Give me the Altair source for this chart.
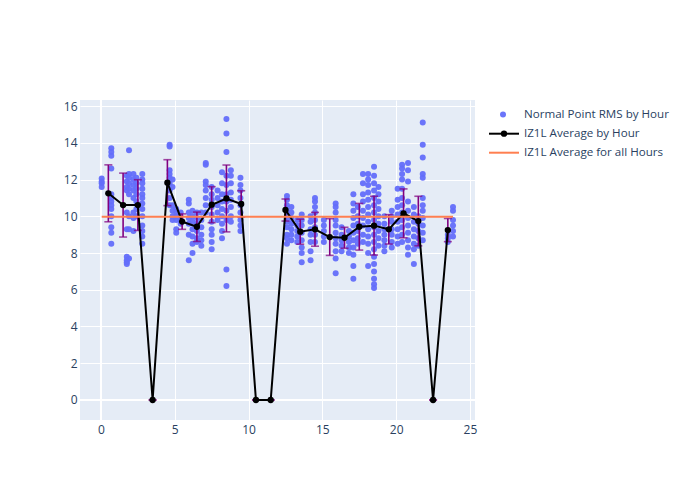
import altair as alt
import pandas as pd

# ---- scatter streaks: hour position and RMS values ----
streak_x = [0.05, 0.7, 1.75, 1.9, 2.2, 2.4, 2.8, 4.65, 4.85, 5.1, 5.4, 5.95,
            6.2, 6.5, 6.8, 7.1, 7.5, 7.9, 8.2, 8.5, 8.8, 9.45,
            12.6, 12.9, 13.3, 13.6, 14.2, 14.5, 15.1, 15.9, 16.3, 16.8,
            17.1, 17.4, 17.75, 18.1, 18.5, 18.8, 19.2, 19.7,
            20.1, 20.4, 20.8, 21.2, 21.5, 21.8, 23.5, 23.85]
streak_y = [
    [12.05, 11.8, 11.6, 11.9],
    [13.7, 13.5, 13.3, 12.6, 11.2, 11.0, 10.8, 10.6, 10.4, 10.0, 9.4, 9.1, 8.5],
    [12.2, 11.9, 11.6, 11.4, 10.2, 9.3, 7.8, 7.6, 7.5, 7.4],
    [13.6, 12.3, 12.1, 11.8, 11.5, 11.2, 10.0, 9.3, 7.7],
    [12.3, 12.0, 11.7, 11.4, 11.0, 10.2, 9.9, 9.2],
    [12.1, 11.8, 11.5, 11.2, 10.8, 10.4, 10.0],
    [12.3, 12.0, 11.8, 11.5, 11.2, 11.0, 10.7, 10.4, 10.0, 9.5, 9.2, 8.9, 8.5],
    [13.9, 13.8, 12.5, 12.3, 12.1, 11.8, 11.4, 11.0, 10.6],
    [12.0, 11.6, 10.6, 10.3, 10.0, 9.8],
    [10.4, 10.2, 10.0, 9.8, 9.3, 9.1],
    [10.2, 10.0, 9.8, 9.6],
    [10.9, 10.7, 10.2, 9.9, 9.6, 9.0, 7.6],
    [10.3, 10.0, 9.7, 9.3, 8.9, 8.5, 8.0],
    [10.2, 9.9, 9.6, 9.2, 8.8, 8.6],
    [10.2, 9.8, 9.4, 9.0, 8.7, 8.4],
    [12.9, 12.8, 11.9, 11.7, 11.4, 11.0, 10.6, 10.2],
    [11.6, 11.2, 10.9, 10.5, 10.1, 9.7, 9.3, 9.0, 8.6, 8.2],
    [11.4, 11.0, 10.6, 10.2, 9.8],
    [12.4, 11.8, 11.2, 10.8, 10.4, 10.0, 9.6, 9.2, 8.8],
    [15.3, 14.5, 13.5, 12.2, 11.7, 11.2, 10.8, 10.3, 9.8, 7.1, 6.2],
    [12.5, 12.2, 11.8, 11.3, 10.9, 10.5, 10.0, 9.7],
    [12.1, 11.7, 11.4, 11.0, 10.6, 10.2, 9.8, 9.5, 9.2],
    [11.1, 10.9, 10.6, 10.3, 10.0, 9.7, 9.4, 9.0, 8.8, 8.5],
    [10.5, 10.2, 9.9, 9.6, 9.3, 9.0, 8.7],
    [9.8, 9.5, 9.2, 8.9, 8.6],
    [10.1, 9.8, 9.5, 9.1, 8.7, 8.3, 8.0, 7.5],
    [10.0, 9.7, 9.3, 9.0, 8.6, 8.1, 7.6],
    [11.0, 10.8, 10.5, 10.2, 9.8, 9.4, 9.0, 8.6],
    [9.8, 9.5, 9.2, 8.9, 8.6],
    [10.7, 10.5, 10.2, 9.8, 9.5, 9.1, 8.8, 8.5, 8.1, 7.7, 6.9],
    [9.4, 9.0, 8.7, 8.4, 8.1],
    [9.2, 8.9, 8.6, 8.3, 8.0],
    [11.2, 10.7, 10.3, 9.9, 9.5, 9.1, 8.7, 8.3, 7.9, 7.3, 6.6],
    [10.5, 10.0, 9.6, 9.2, 8.8, 8.5],
    [12.3, 11.8, 11.2, 10.8, 10.3, 9.9, 9.5, 9.0, 8.6],
    [12.3, 12.0, 11.7, 11.3, 10.9, 10.5, 10.1, 9.7, 9.3, 8.9, 8.5, 8.0, 7.3],
    [12.7, 12.2, 11.8, 11.4, 11.0, 10.6, 10.2, 9.8, 9.4, 9.0, 8.6, 8.2, 7.8, 7.4, 7.0, 6.6, 6.3, 6.1],
    [11.6, 11.2, 10.8, 10.4, 10.0, 9.6, 9.2, 8.8, 8.4],
    [10.0, 9.6, 9.3, 9.0, 8.7, 8.4, 8.1],
    [10.3, 10.0, 9.7, 9.3, 9.0, 8.6, 8.3],
    [11.5, 10.9, 10.5, 10.1, 9.7, 9.3, 8.9, 8.5],
    [12.8, 12.6, 12.3, 12.0, 11.5, 11.0, 10.6, 10.2, 9.8, 9.4, 9.0, 8.6],
    [12.9, 12.5, 11.9, 10.8, 10.3, 9.9, 9.5, 9.1, 8.7, 8.3, 7.9],
    [10.5, 10.1, 9.7, 9.3, 8.9, 8.5, 8.2, 7.4],
    [10.0, 9.6, 9.2, 8.8, 8.4],
    [15.1, 13.9, 13.2, 12.3, 12.1, 11.0, 10.6, 10.3, 9.9, 9.5, 9.1, 8.7],
    [9.0, 8.8, 8.6],
    [10.5, 10.3, 9.8, 9.5, 9.2, 8.9],
]

# ---- hourly averages and error bars ----
avg_hour = [0.5, 1.5, 2.5, 3.5, 4.5, 5.5, 6.5, 7.5, 8.5, 9.5, 10.5, 11.5,
            12.5, 13.5, 14.5, 15.5, 16.5, 17.5, 18.5, 19.5, 20.5, 21.5, 22.5, 23.5]
avg_value = [11.25, 10.61, 10.61, 0.0, 11.83, 9.71, 9.43, 10.63, 10.97, 10.67, 0.0, 0.0,
             10.34, 9.16, 9.29, 8.87, 8.83, 9.43, 9.49, 9.29, 10.16, 9.74, 0.0, 9.25]
avg_err = [1.55, 1.74, 1.38, 0.0, 1.25, 0.42, 0.8, 0.98, 1.82, 0.72, 0.0, 0.0,
           0.6, 0.68, 0.92, 1.0, 0.57, 1.27, 1.6, 0.8, 1.33, 1.35, 0.0, 0.63]

overall_avg = 9.98

legend_labels = ["Normal Point RMS by Hour", "IZ1L Average by Hour", "IZ1L Average for all Hours"]

# ---- tables ----
pts = pd.DataFrame(
    [{"hour": x, "rms": y} for x, ys in zip(streak_x, streak_y) for y in ys]
)
avg = pd.DataFrame({"hour": avg_hour, "value": avg_value, "err": avg_err})
avg["lo"] = avg["value"] - avg["err"]
avg["hi"] = avg["value"] + avg["err"]
overall = pd.DataFrame({"x": [pts["hour"].min()], "x2": [pts["hour"].max()], "y": [overall_avg]})

FONT = "Open Sans"
TXT = "#2a3f5f"
xs = alt.Scale(domain=[-1.42, 25.34], nice=False, zero=False)
ys = alt.Scale(domain=[-1.09, 16.33], nice=False, zero=False)
xaxis = alt.Axis(values=[0, 5, 10, 15, 20, 25], title=None, grid=True, gridColor="white",
                 gridWidth=1, domain=False, ticks=False, labelColor=TXT, labelFontSize=12,
                 labelFont=FONT, labelPadding=4, labelOverlap=False)
yaxis = alt.Axis(values=[0, 2, 4, 6, 8, 10, 12, 14, 16], title=None, grid=True, gridColor="white",
                 gridWidth=1, domain=False, ticks=False, labelColor=TXT, labelFontSize=12,
                 labelFont=FONT, labelPadding=3, labelOverlap=False)


def X(field):
    return alt.X(field, scale=xs, axis=xaxis)


def Y(field):
    return alt.Y(field, scale=ys, axis=yaxis)


zero_x = alt.Chart(pd.DataFrame({"v": [0]})).mark_rule(color="white", strokeWidth=2).encode(
    x=X("v:Q"))
zero_y = alt.Chart(pd.DataFrame({"v": [0]})).mark_rule(color="white", strokeWidth=2).encode(
    y=Y("v:Q"))

scatter = alt.Chart(pts).mark_circle(size=36, color="#636efa", opacity=0.95).encode(
    x=X("hour:Q"), y=Y("rms:Q"))

err_rule = alt.Chart(avg).mark_rule(color="purple", strokeWidth=1.6).encode(
    x=X("hour:Q"), y=Y("lo:Q"), y2="hi:Q")
cap_lo = alt.Chart(avg).mark_tick(color="purple", orient="horizontal", size=8, thickness=1.6).encode(
    x=X("hour:Q"), y=Y("lo:Q"))
cap_hi = alt.Chart(avg).mark_tick(color="purple", orient="horizontal", size=8, thickness=1.6).encode(
    x=X("hour:Q"), y=Y("hi:Q"))

avg_line = alt.Chart(avg).mark_line(color="black", strokeWidth=2).encode(
    x=X("hour:Q"), y=Y("value:Q"))
avg_pts = alt.Chart(avg).mark_circle(color="black", size=40, opacity=1).encode(
    x=X("hour:Q"), y=Y("value:Q"))

overall_line = alt.Chart(overall).mark_rule(color="#FF7F50", strokeWidth=2).encode(
    x=X("x:Q"), x2="x2:Q", y=Y("y:Q"))

# ---- manual legend (positions relative to the plot area) ----
leg_rows = [14.5, 33.7, 52.7]
leg_text = [
    alt.Chart(pd.DataFrame({"t": [lab]})).mark_text(
        align="left", baseline="middle", font=FONT, fontSize=11.6, color=TXT).encode(
        x=alt.value(444), y=alt.value(yy), text="t:N")
    for lab, yy in zip(legend_labels, leg_rows)
]
leg_dot = alt.Chart(pd.DataFrame({"a": [0]})).mark_circle(size=36, color="#636efa", opacity=0.95).encode(
    x=alt.value(423), y=alt.value(leg_rows[0]))
leg_line = alt.Chart(pd.DataFrame({"a": [0]})).mark_rule(color="black", strokeWidth=2).encode(
    x=alt.value(409), x2=alt.value(439), y=alt.value(leg_rows[1]))
leg_line_dot = alt.Chart(pd.DataFrame({"a": [0]})).mark_circle(size=40, color="black", opacity=1).encode(
    x=alt.value(424), y=alt.value(leg_rows[1]))
leg_orange = alt.Chart(pd.DataFrame({"a": [0]})).mark_rule(color="#FF7F50", strokeWidth=2).encode(
    x=alt.value(409), x2=alt.value(439), y=alt.value(leg_rows[2]))

chart = alt.layer(
    zero_x, zero_y, scatter, err_rule, cap_lo, cap_hi, avg_line, avg_pts, overall_line,
    leg_dot, leg_line, leg_line_dot, leg_orange, *leg_text
).properties(
    width=395, height=320,
    autosize=alt.AutoSizeParams(type="none"),
    padding={"left": 80, "top": 100, "right": 225, "bottom": 80},
    background="white",
).configure_view(
    fill="#E5ECF6", stroke=None
)

chart.save("out.html", embed_options={"renderer": "svg", "actions": False})
